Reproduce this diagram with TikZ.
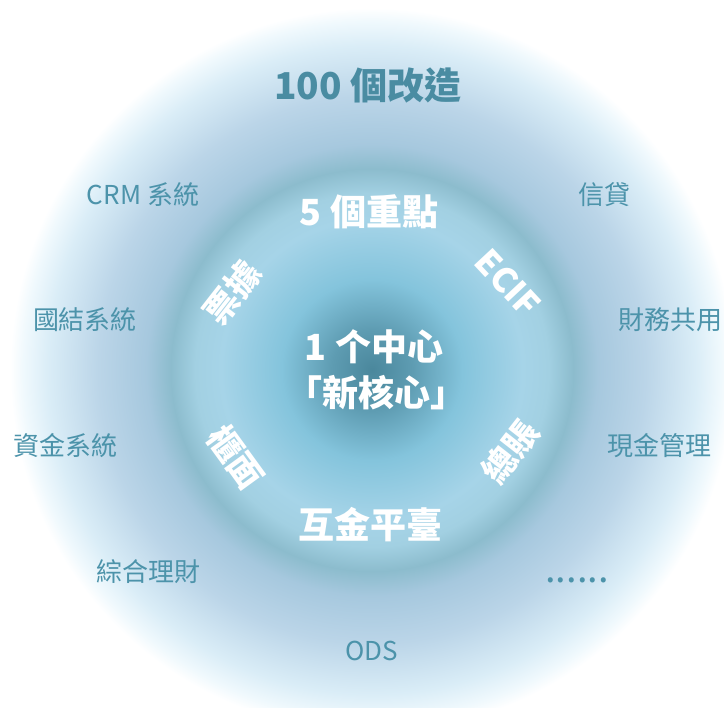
\documentclass[tikz,border=0pt]{standalone}
\usepackage{fontspec}
\newfontfamily\cjk{Noto Sans CJK TC}
\definecolor{g0}{HTML}{4A879C}
\definecolor{g1}{HTML}{5E9CB2}
\definecolor{g2}{HTML}{84C4DC}
\definecolor{g3}{HTML}{A6D4E8}
\definecolor{g4}{HTML}{A2D0E2}
\definecolor{g5}{HTML}{8CBCCD}
\definecolor{g6}{HTML}{A6C8DE}
\definecolor{g7}{HTML}{BBD5E8}
\definecolor{g8}{HTML}{DAEDF7}
\definecolor{g9}{HTML}{F0F9FD}
\definecolor{labelc}{HTML}{4C93AA}
\definecolor{titlec}{HTML}{4A8CA2}
\pgfdeclareradialshading{bgshade}{\pgfpoint{0bp}{0bp}}{color(0bp)=(g0); color(2.8bp)=(g1); color(6.25bp)=(g2); color(10.4bp)=(g3); color(12.2bp)=(g4); color(13.9bp)=(g5); color(15.6bp)=(g6); color(18.9bp)=(g7); color(22.4bp)=(g8); color(24.1bp)=(g9); color(25bp)=(white); color(50bp)=(white)}
\begin{document}
\begin{tikzpicture}[x=1pt,y=-1pt,
  outerlbl/.style={font=\cjk\fontsize{26}{30}\selectfont, text=labelc, inner sep=0pt},
  titlelbl/.style={font=\cjk\bfseries\fontsize{37}{40}\selectfont, text=titlec, inner sep=0pt},
  innerlbl/.style={font=\cjk\bfseries\fontsize{36}{40}\selectfont, text=white, inner sep=0pt},
  ringlbl/.style={font=\cjk\bfseries\fontsize{34}{38}\selectfont, text=white, inner sep=0pt}]
\useasboundingbox (0,0) rectangle (724,708);
\fill[white] (0,0) rectangle (724,708);
\shade[shading=bgshade] (372,370) circle[radius=362];
\node[titlelbl] (t100) at (368,86) {100 個改造};
\node[outerlbl] (crm) at (143,195) {CRM 系統};
\node[outerlbl] (xd) at (604,195) {信貸};
\node[outerlbl] (gj) at (85,320) {國結系統};
\node[outerlbl] (cw) at (670,320) {財務共用};
\node[outerlbl] (zj) at (65,446) {資金系統};
\node[outerlbl] (xj) at (659,446) {現金管理};
\node[outerlbl] (zh) at (148,572) {綜合理財};
\node[outerlbl, anchor=base, font=\cjk\fontsize{38}{40}\selectfont] (dots) at (577,583) {......};
\node[outerlbl] (ods) at (372,651) {ODS};
\node[innerlbl] (zd) at (369,212) {5 個重點};
\node[innerlbl] (c1) at (374,347) {1 个中心};
\node[innerlbl] (c2) at (376,393) {「新核心」};
\node[innerlbl] (hj) at (370,525) {互金平臺};
\node[ringlbl, rotate=52] (pj) at (232,293) {票據};
\node[ringlbl, rotate=-47] (ecif) at (508,283) {ECIF};
\node[ringlbl, rotate=-54] (gm) at (236,457) {櫃面};
\node[ringlbl, rotate=52] (zz) at (510,452) {總賬};
\end{tikzpicture}
\end{document}
